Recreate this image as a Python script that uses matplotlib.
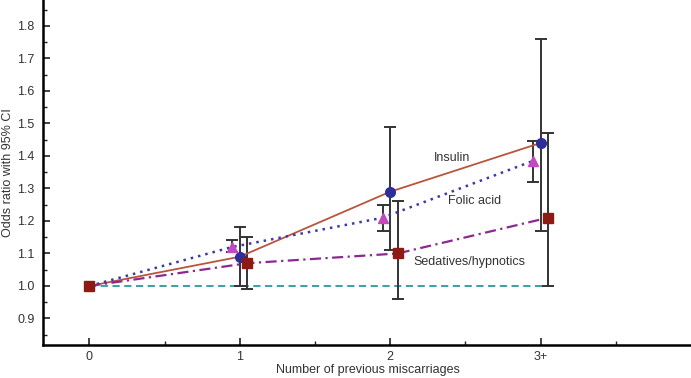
import matplotlib.pyplot as plt
from matplotlib.ticker import MultipleLocator, FixedLocator

# data
x_pos = [0, 1, 2, 3]
x_labels = ['0', '1', '2', '3+']

insulin = [1.0, 1.09, 1.29, 1.44]
insulin_lo = [1.0, 1.00, 1.11, 1.17]
insulin_hi = [1.0, 1.18, 1.49, 1.76]

folic = [1.0, 1.12, 1.21, 1.385]
folic_lo = [1.0, 1.105, 1.17, 1.32]
folic_hi = [1.0, 1.14, 1.25, 1.445]

sedat = [1.0, 1.07, 1.10, 1.21]
sedat_lo = [1.0, 0.99, 0.96, 1.00]
sedat_hi = [1.0, 1.15, 1.26, 1.47]

plt.rcParams['font.family'] = ['Liberation Sans', 'DejaVu Sans']

fig = plt.figure(figsize=(6.91, 3.78), dpi=100)
ax = fig.add_axes([0.062, 0.087, 0.94, 0.913])

off = 0.05
xf = [x - off if x > 0 else x for x in x_pos]
xs = [x + off if x > 0 else x for x in x_pos]

ebar = dict(color='#333333', lw=1.4, capsize=4.5, capthick=1.4, zorder=2)

# baseline at 1.0
ax.plot([0, 3.07], [1.0, 1.0], ls=(0, (4, 2.5)), color='#2a9a9a', lw=1.3, zorder=1)

# lines
ax.plot(x_pos, insulin, color='#b8553c', lw=1.3, zorder=3)
ax.plot(xf, folic, ls=(0, (1, 2)), color='#3a3aa8', lw=1.8, zorder=3)
ax.plot(xs, sedat, ls=(0, (5, 2, 1, 2)), color='#8a2a90', lw=1.6, zorder=3)

# error bars
for i in range(1, 4):
    ax.errorbar(x_pos[i], insulin[i],
                yerr=[[insulin[i] - insulin_lo[i]], [insulin_hi[i] - insulin[i]]],
                fmt='none', **ebar)
    ax.errorbar(xf[i], folic[i],
                yerr=[[folic[i] - folic_lo[i]], [folic_hi[i] - folic[i]]],
                fmt='none', **ebar)
    ax.errorbar(xs[i], sedat[i],
                yerr=[[sedat[i] - sedat_lo[i]], [sedat_hi[i] - sedat[i]]],
                fmt='none', **ebar)

# markers
ax.plot(x_pos[1:], insulin[1:], 'o', color='#2e2e9a', ms=7, zorder=4)
ax.plot(xf[1:], folic[1:], '^', color='#c548c0', ms=7, zorder=4)
ax.plot(xs, sedat, 's', color='#8e1a14', ms=7.5, zorder=5)

# labels on the lines
ax.text(2.41, 1.394, 'Insulin', fontsize=9, color='#333333', ha='center', va='center')
ax.text(2.56, 1.26, 'Folic acid', fontsize=9, color='#333333', ha='center', va='center')
ax.text(2.53, 1.074, 'Sedatives/hypnotics', fontsize=9, color='#333333', ha='center', va='center')

ax.set_xlim(-0.31, 4.01)
ax.set_ylim(0.818, 1.88)
ax.xaxis.set_major_locator(FixedLocator(x_pos))
ax.set_xticklabels(x_labels)
ax.xaxis.set_minor_locator(FixedLocator([0.5, 1.5, 2.5, 3.5]))
ax.yaxis.set_major_locator(FixedLocator([0.9, 1.0, 1.1, 1.2, 1.3, 1.4, 1.5, 1.6, 1.7, 1.8]))
ax.yaxis.set_minor_locator(MultipleLocator(0.05))
ax.set_yticklabels(['0.9', '1.0', '1.1', '1.2', '1.3', '1.4', '1.5', '1.6', '1.7', '1.8'])

ax.spines['top'].set_visible(False)
ax.spines['right'].set_visible(False)
ax.spines['left'].set_linewidth(1.8)
ax.spines['bottom'].set_linewidth(1.8)
ax.tick_params(which='major', direction='in', length=5, width=1.2, labelsize=9,
               colors='#222222', labelcolor='#333333', pad=6)
ax.tick_params(axis='x', which='major', pad=4)
ax.tick_params(which='minor', direction='in', length=3, width=1.0, colors='#222222')

ax.set_xlabel('Number of previous miscarriages', fontsize=9, color='#333333', va='center')
ax.set_ylabel('Odds ratio with 95% CI', fontsize=9, color='#333333', va='center')
ax.xaxis.set_label_coords(0.5, -0.072)
ax.yaxis.set_label_coords(-0.053, 0.5)

fig.savefig('out.png', dpi=100)
